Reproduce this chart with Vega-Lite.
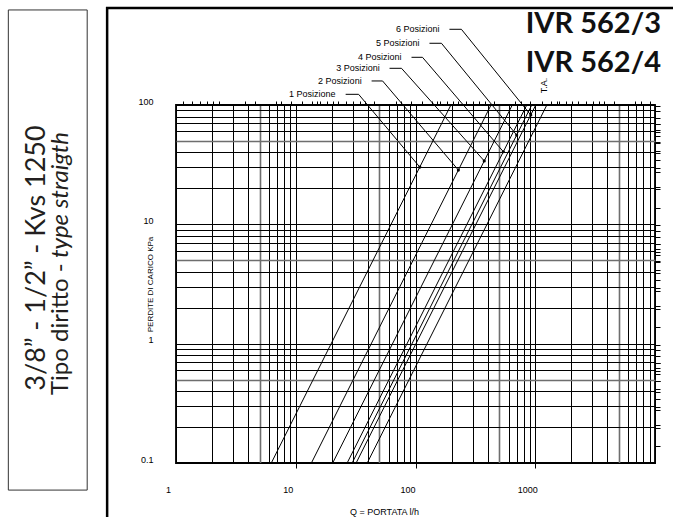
{
  "$schema": "https://vega.github.io/schema/vega-lite/v6.json",
  "width": 479,
  "height": 358,
  "autosize": {"type": "none"},
  "padding": {"left": 176, "top": 105, "right": 18, "bottom": 54},
  "background": "white",
  "config": {"view": {"stroke": "black", "strokeWidth": 1.8}, "font": "Liberation Sans"},
  "datasets": {
    "curves": [
      {"series": "1 Posizione", "q": 6.25, "p": 0.1}, {"series": "1 Posizione", "q": 197.6, "p": 100},
      {"series": "2 Posizioni", "q": 13.51, "p": 0.1}, {"series": "2 Posizioni", "q": 427.2, "p": 100},
      {"series": "3 Posizioni", "q": 20.34, "p": 0.1}, {"series": "3 Posizioni", "q": 643.2, "p": 100},
      {"series": "4 Posizioni", "q": 26.87, "p": 0.1}, {"series": "4 Posizioni", "q": 849.7, "p": 100},
      {"series": "5 Posizioni", "q": 29.57, "p": 0.1}, {"series": "5 Posizioni", "q": 935.1, "p": 100},
      {"series": "6 Posizioni", "q": 31.93, "p": 0.1}, {"series": "6 Posizioni", "q": 1009.7, "p": 100},
      {"series": "T.A.", "q": 39.53, "p": 0.1}, {"series": "T.A.", "q": 1250, "p": 100}
    ],
    "leaders": [
      {"series": "1 Posizione", "o": 1, "q": 26.1, "p": 122.9}, {"series": "1 Posizione", "o": 2, "q": 33.5, "p": 122.9}, {"series": "1 Posizione", "o": 3, "q": 108.6, "p": 30.2},
      {"series": "2 Posizioni", "o": 1, "q": 43.0, "p": 159}, {"series": "2 Posizioni", "o": 2, "q": 53.1, "p": 159}, {"series": "2 Posizioni", "o": 3, "q": 228.1, "p": 28.5},
      {"series": "3 Posizioni", "o": 1, "q": 60.7, "p": 203}, {"series": "3 Posizioni", "o": 2, "q": 76.4, "p": 203}, {"series": "3 Posizioni", "o": 3, "q": 375.0, "p": 34},
      {"series": "4 Posizioni", "o": 1, "q": 92.6, "p": 251}, {"series": "4 Posizioni", "o": 2, "q": 114.4, "p": 251}, {"series": "4 Posizioni", "o": 3, "q": 541.4, "p": 40.6},
      {"series": "5 Posizioni", "o": 1, "q": 130.8, "p": 329}, {"series": "5 Posizioni", "o": 2, "q": 164.7, "p": 329}, {"series": "5 Posizioni", "o": 3, "q": 699.7, "p": 56},
      {"series": "6 Posizioni", "o": 1, "q": 192.0, "p": 431}, {"series": "6 Posizioni", "o": 2, "q": 241.7, "p": 431}, {"series": "6 Posizioni", "o": 3, "q": 917.1, "p": 82.5}
    ],
    "dots": [
      {"series": "1 Posizione", "q": 108.6, "p": 30.2},
      {"series": "2 Posizioni", "q": 228.1, "p": 28.5},
      {"series": "3 Posizioni", "q": 375.0, "p": 34},
      {"series": "4 Posizioni", "q": 541.4, "p": 40.6},
      {"series": "5 Posizioni", "q": 699.7, "p": 56},
      {"series": "6 Posizioni", "q": 917.1, "p": 82.5}
    ],
    "labels": [
      {"text": "1 Posizione", "q": 21.5, "p": 122.9},
      {"text": "2 Posizioni", "q": 35.5, "p": 159},
      {"text": "3 Posizioni", "q": 50.2, "p": 203},
      {"text": "4 Posizioni", "q": 76.5, "p": 251},
      {"text": "5 Posizioni", "q": 108.0, "p": 329},
      {"text": "6 Posizioni", "q": 158.5, "p": 431}
    ],
    "ta": [{"text": "T.A.", "q": 1259, "p": 145.7}],
    "titles": [
      {"text": "IVR 562/3", "q": 11220, "p": 401},
      {"text": "IVR 562/4", "q": 11220, "p": 189}
    ],
    "frame": [{"q": 0.266, "q2": 15849, "p": 650, "p2": 0.0302}],
    "leftbox": [{"q": 0.0398, "q2": 0.1813, "p": 625.7, "p2": 0.0593}],
    "side1": [{"text": "3/8” - 1/2” - Kvs 1250", "q": 0.081, "p": 5.22}],
    "side2a": [{"text": "Tipo diritto -", "q": 0.1259, "p": 0.3708}],
    "side2b": [{"text": "type straigth", "q": 0.1259, "p": 59.4}]
  },
  "layer": [
    {
      "data": {"name": "curves"},
      "mark": {"type": "line", "color": "black", "strokeWidth": 1},
      "encoding": {
        "x": {
          "field": "q", "type": "quantitative",
          "scale": {"type": "log", "domain": [1, 10000]},
          "axis": {
            "orient": "bottom",
            "values": [1,2,3,4,5,6,7,8,9,10,20,30,40,50,60,70,80,90,100,200,300,400,500,600,700,800,900,1000,2000,3000,4000,5000,6000,7000,8000,9000,10000],
            "grid": true,
            "gridColor": {"condition": {"test": "indexof([5,50,500,5000], datum.value) >= 0", "value": "#6e6e6e"}, "value": "#000000"},
            "gridWidth": {"condition": {"test": "indexof([5,50,500,5000], datum.value) >= 0", "value": 1.6}, "value": 1},
            "domain": false,
            "ticks": true,
            "tickSize": 5,
            "tickColor": {"condition": {"test": "indexof([10,100,1000], datum.value) >= 0", "value": "black"}, "value": "transparent"},
            "labelExpr": "indexof([1,10,100,1000], datum.value) >= 0 ? format(datum.value, 'd') : ''",
            "labelFont": "Liberation Sans", "labelFontSize": 9, "labelColor": "black",
            "labelPadding": 17, "labelOffset": -8, "labelOverlap": false, "labelFlush": false, "labelBound": false,
            "title": "Q = PORTATA l/h",
            "titleFont": "Liberation Sans", "titleFontSize": 9, "titleFontWeight": "normal", "titleColor": "black",
            "titleX": 208, "titleY": 48, "titleBaseline": "middle", "titleAlign": "center"
          }
        },
        "y": {
          "field": "p", "type": "quantitative",
          "scale": {"type": "log", "domain": [0.1, 100]},
          "axis": {
            "orient": "left",
            "values": [0.1,0.2,0.3,0.4,0.5,0.6,0.7,0.8,0.9,1,2,3,4,5,6,7,8,9,10,20,30,40,50,60,70,80,90,100],
            "grid": true,
            "gridColor": {"condition": {"test": "indexof([0.5,5,50], datum.value) >= 0", "value": "#6e6e6e"}, "value": "#000000"},
            "gridWidth": {"condition": {"test": "indexof([0.5,5,50], datum.value) >= 0", "value": 1.6}, "value": 1},
            "domain": false,
            "ticks": false,
            "labelExpr": "indexof([0.1,1,10,100], datum.value) >= 0 ? format(datum.value, '~g') : ''",
            "labelFont": "Liberation Sans", "labelFontSize": 9, "labelColor": "black",
            "labelPadding": 23, "labelOffset": -4, "labelOverlap": false, "labelFlush": false, "labelBound": false,
            "title": "PERDITE DI CARICO KPa",
            "titleFont": "Liberation Sans", "titleFontSize": 8, "titleFontWeight": "normal", "titleColor": "black",
            "titleX": -26, "titleY": 179, "titleBaseline": "middle", "titleAlign": "center", "titleAngle": 270
          }
        },
        "detail": {"field": "series"}
      }
    },
    {
      "data": {"name": "frame"},
      "mark": {"type": "rect", "filled": false, "stroke": "black", "strokeWidth": 2.5, "clip": false},
      "encoding": {
        "x": {
          "field": "q", "type": "quantitative",
          "scale": {"type": "log", "domain": [1, 10000]},
          "axis": {
            "orient": "top", "labels": false, "domain": false, "grid": false, "title": null,
            "tickSize": 4, "tickColor": "black", "tickWidth": 1,
            "values": [1.1355,1.3626,1.5897,1.8168,2.0439,2.271,3.785,4.542,6.813,7.571,9.084,11.355,13.626,15.142,15.897,18.168,20.439,22.71,26.5,30.28,34.07,37.85,45.42,68.13,75.7,90.84,113.55,136.26,151.4,158.97,181.68,204.39,227.1,265,302.8,340.7,378.5,454.2,681.3,757,908.4,1135.5,1362.6,1514,1589.7,1816.8,2043.9,2271,2650,3028,3407,3785,4542,6813,7571,9084]
          }
        },
        "x2": {"field": "q2"},
        "y": {
          "field": "p", "type": "quantitative",
          "scale": {"type": "log", "domain": [0.1, 100]},
          "axis": {
            "orient": "right", "labels": false, "domain": false, "grid": false, "title": null,
            "tickSize": 5, "tickColor": "black", "tickWidth": 1,
            "values": [0.1379,0.1961,0.2068,0.2758,0.2942,0.3447,0.3923,0.4137,0.4826,0.4903,0.5516,0.5884,0.6205,0.6865,0.6895,0.7845,0.8826,0.9807,1.379,1.961,2.068,2.758,2.942,3.447,3.923,4.137,4.826,4.903,5.516,5.884,6.205,6.865,6.895,7.845,8.826,9.807,13.79,19.61,20.68,27.58,29.42,34.47,39.23,41.37,48.26,49.03,55.16,58.84,62.05,68.65,68.95,78.45,88.26,98.07]
          }
        },
        "y2": {"field": "p2"}
      }
    },
    {
      "data": {"name": "leftbox"},
      "mark": {"type": "rect", "filled": false, "stroke": "#333333", "strokeWidth": 1, "clip": false},
      "encoding": {
        "x": {"field": "q", "type": "quantitative", "scale": {"type": "log", "domain": [1, 10000]}, "axis": null},
        "x2": {"field": "q2"},
        "y": {"field": "p", "type": "quantitative", "scale": {"type": "log", "domain": [0.1, 100]}, "axis": null},
        "y2": {"field": "p2"}
      }
    },
    {
      "data": {"name": "leaders"},
      "mark": {"type": "line", "color": "black", "strokeWidth": 1, "clip": false},
      "encoding": {
        "x": {"field": "q", "type": "quantitative", "scale": {"type": "log", "domain": [1, 10000]}, "axis": null},
        "y": {"field": "p", "type": "quantitative", "scale": {"type": "log", "domain": [0.1, 100]}, "axis": null},
        "detail": {"field": "series"},
        "order": {"field": "o"}
      }
    },
    {
      "data": {"name": "dots"},
      "mark": {"type": "circle", "color": "black", "size": 10, "opacity": 1},
      "encoding": {
        "x": {"field": "q", "type": "quantitative", "scale": {"type": "log", "domain": [1, 10000]}, "axis": null},
        "y": {"field": "p", "type": "quantitative", "scale": {"type": "log", "domain": [0.1, 100]}, "axis": null}
      }
    },
    {
      "data": {"name": "labels"},
      "mark": {"type": "text", "font": "Liberation Sans", "fontSize": 9, "color": "black", "align": "right", "baseline": "middle", "clip": false},
      "encoding": {
        "x": {"field": "q", "type": "quantitative", "scale": {"type": "log", "domain": [1, 10000]}, "axis": null},
        "y": {"field": "p", "type": "quantitative", "scale": {"type": "log", "domain": [0.1, 100]}, "axis": null},
        "text": {"field": "text"}
      }
    },
    {
      "data": {"name": "ta"},
      "mark": {"type": "text", "font": "Liberation Sans", "fontSize": 9, "color": "black", "align": "center", "baseline": "alphabetic", "angle": 270, "clip": false},
      "encoding": {
        "x": {"field": "q", "type": "quantitative", "scale": {"type": "log", "domain": [1, 10000]}, "axis": null},
        "y": {"field": "p", "type": "quantitative", "scale": {"type": "log", "domain": [0.1, 100]}, "axis": null},
        "text": {"field": "text"}
      }
    },
    {
      "data": {"name": "titles"},
      "mark": {"type": "text", "font": "Lato", "fontSize": 29, "fontWeight": "bold", "color": "#111111", "align": "right", "baseline": "alphabetic", "clip": false},
      "encoding": {
        "x": {"field": "q", "type": "quantitative", "scale": {"type": "log", "domain": [1, 10000]}, "axis": null},
        "y": {"field": "p", "type": "quantitative", "scale": {"type": "log", "domain": [0.1, 100]}, "axis": null},
        "text": {"field": "text"}
      }
    },
    {
      "data": {"name": "side1"},
      "mark": {"type": "text", "font": "Lato", "fontSize": 27, "color": "#231f20", "align": "center", "baseline": "alphabetic", "angle": 270, "clip": false},
      "encoding": {
        "x": {"field": "q", "type": "quantitative", "scale": {"type": "log", "domain": [1, 10000]}, "axis": null},
        "y": {"field": "p", "type": "quantitative", "scale": {"type": "log", "domain": [0.1, 100]}, "axis": null},
        "text": {"field": "text"}
      }
    },
    {
      "data": {"name": "side2a"},
      "mark": {"type": "text", "font": "Lato", "fontSize": 24, "color": "#231f20", "align": "left", "baseline": "alphabetic", "angle": 270, "clip": false},
      "encoding": {
        "x": {"field": "q", "type": "quantitative", "scale": {"type": "log", "domain": [1, 10000]}, "axis": null},
        "y": {"field": "p", "type": "quantitative", "scale": {"type": "log", "domain": [0.1, 100]}, "axis": null},
        "text": {"field": "text"}
      }
    },
    {
      "data": {"name": "side2b"},
      "mark": {"type": "text", "font": "Lato", "fontSize": 24, "fontStyle": "italic", "color": "#231f20", "align": "right", "baseline": "alphabetic", "angle": 270, "clip": false},
      "encoding": {
        "x": {"field": "q", "type": "quantitative", "scale": {"type": "log", "domain": [1, 10000]}, "axis": null},
        "y": {"field": "p", "type": "quantitative", "scale": {"type": "log", "domain": [0.1, 100]}, "axis": null},
        "text": {"field": "text"}
      }
    }
  ],
  "resolve": {"axis": {"x": "independent", "y": "independent"}}
}
